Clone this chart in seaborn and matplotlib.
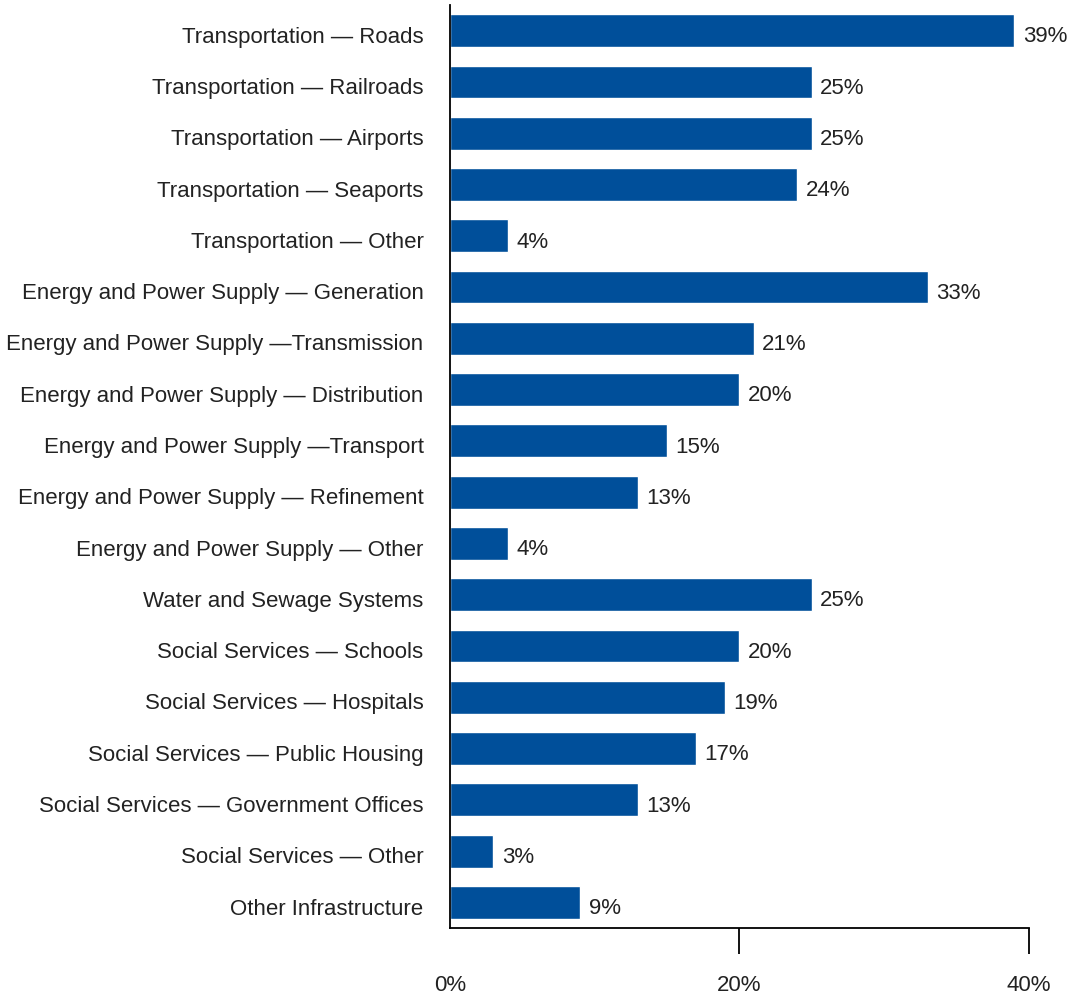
import numpy as np
import pandas as pd
import seaborn as sns
import matplotlib.pyplot as plt
import matplotlib.transforms as mtransforms

# chart data
categories = [
    'Transportation — Roads',
    'Transportation — Railroads',
    'Transportation — Airports',
    'Transportation — Seaports',
    'Transportation — Other',
    'Energy and Power Supply — Generation',
    'Energy and Power Supply —Transmission',
    'Energy and Power Supply — Distribution',
    'Energy and Power Supply —Transport',
    'Energy and Power Supply — Refinement',
    'Energy and Power Supply — Other',
    'Water and Sewage Systems',
    'Social Services — Schools',
    'Social Services — Hospitals',
    'Social Services — Public Housing',
    'Social Services — Government Offices',
    'Social Services — Other',
    'Other Infrastructure',
]
values = [39, 25, 25, 24, 4, 33, 21, 20, 15, 13, 4, 25, 20, 19, 17, 13, 3, 9]
x_ticks = [0, 20, 40]
x_tick_labels = ['0%', '20%', '40%']

df = pd.DataFrame({'category': categories, 'value': values})

sns.set_style("white")
plt.rcParams['font.family'] = ['Liberation Sans', 'DejaVu Sans']

fig = plt.figure(figsize=(10.78, 9.98), dpi=100)
ax = fig.add_axes([0.4174, 0.0701, 0.5371, 0.9249])

sns.barplot(data=df, x='value', y='category', color='#004F9A', width=0.64,
            saturation=1, ax=ax)

# small downward shift for text, like the original
shift = mtransforms.ScaledTranslation(0, -3 / 72, fig.dpi_scale_trans)

# value labels
for cont in ax.containers:
    txts = ax.bar_label(cont, labels=[f'{v}%' for v in values], padding=6,
                        fontsize=16, color='#222222')
    for t in txts:
        t.xyann = (6, -4.5)

ax.set_xlim(0, 40)
ax.set_ylim(17.5, -0.5)
ax.set_xlabel('')
ax.set_ylabel('')
ax.set_xticks(x_ticks)
ax.set_xticklabels(x_tick_labels, fontsize=16, color='#222222')
ax.tick_params(axis='x', direction='out', length=19, width=1.3, color='black', pad=15, bottom=True)
ax.xaxis.get_major_ticks()[0].tick1line.set_visible(False)
ax.tick_params(axis='y', length=0, pad=19)
for lab in ax.get_yticklabels():
    lab.set_fontsize(16)
    lab.set_color('#222222')
    lab.set_transform(lab.get_transform() + shift)

for side in ['top', 'right']:
    ax.spines[side].set_visible(False)
for side in ['left', 'bottom']:
    ax.spines[side].set_color('black')
    ax.spines[side].set_linewidth(1.3)

fig.savefig('out.png', dpi=100)
